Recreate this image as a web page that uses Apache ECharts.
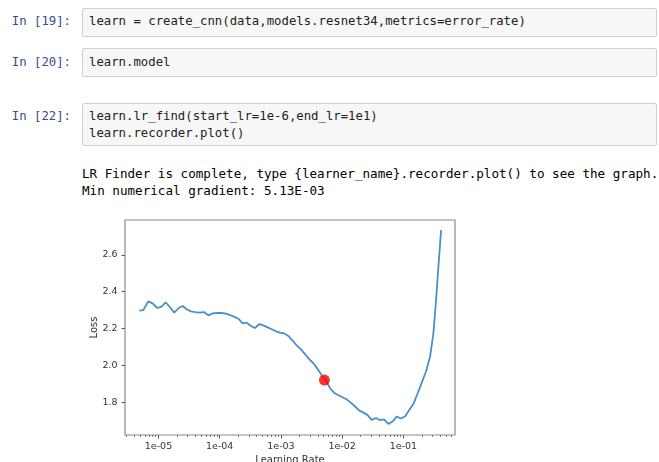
<!DOCTYPE html>
<html><head><meta charset="utf-8">
<script src="https://cdn.jsdelivr.net/npm/echarts@6/dist/echarts.min.js"></script>
<style>
body{margin:0;width:659px;height:462px;overflow:hidden;background:#fff;position:relative;font-family:"DejaVu Sans Mono",monospace;}
.prompt{position:absolute;left:0;width:71px;text-align:right;color:#3a4a96;font-size:12.3px;line-height:17px;white-space:pre;}
.box{position:absolute;left:82px;width:575px;background:#f7f7f7;border:1px solid #cfcfcf;border-radius:2px;box-sizing:border-box;}
.code{position:absolute;left:89px;font-size:12.3px;line-height:17px;color:#222;white-space:pre;}
.out{position:absolute;left:82px;font-size:12.6px;line-height:17px;color:#000;white-space:pre;}
#chart{position:absolute;left:60px;top:210px;width:420px;height:252px;}
</style>
</head><body>
<div class="box" style="top:8px;height:29px"></div>
<div class="prompt" style="top:12.5px">In [19]:</div>
<div class="code" style="top:12.5px">learn = create_cnn(data,models.resnet34,metrics=error_rate)</div>

<div class="box" style="top:48px;height:29px"></div>
<div class="prompt" style="top:53.5px">In [20]:</div>
<div class="code" style="top:53.5px">learn.model</div>

<div class="box" style="top:103px;height:43px"></div>
<div class="prompt" style="top:107.5px">In [22]:</div>
<div class="code" style="top:107.5px">learn.lr_find(start_lr=1e-6,end_lr=1e1)</div>
<div class="code" style="top:124.5px">learn.recorder.plot()</div>

<div class="out" style="top:164.5px">LR Finder is complete, type {learner_name}.recorder.plot() to see the graph.</div>
<div class="out" style="top:181.5px">Min numerical gradient: 5.13E-03</div>

<div id="chart"></div>
<script>
// log10 of learning rate
const lrExp = [-5.314,-5.248,-5.166,-5.096,-5.019,-4.949,-4.883,-4.812,-4.742,-4.671,-4.605,-4.540,-4.469,-4.399,-4.333,-4.257,-4.186,-4.115,-4.039,-3.968,-3.897,-3.832,-3.767,-3.696,-3.625,-3.560,-3.489,-3.424,-3.353,-3.287,-3.217,-3.151,-3.080,-3.015,-2.950,-2.879,-2.808,-2.743,-2.677,-2.607,-2.536,-2.470,-2.405,-2.334,-2.263,-2.198,-2.133,-2.062,-1.997,-1.926,-1.860,-1.790,-1.719,-1.653,-1.588,-1.517,-1.446,-1.381,-1.316,-1.245,-1.174,-1.109,-1.043,-0.973,-0.902,-0.836,-0.771,-0.700,-0.629,-0.564,-0.510,-0.466,-0.428,-0.384];
const loss = [2.298,2.301,2.348,2.337,2.312,2.319,2.343,2.316,2.287,2.312,2.323,2.305,2.294,2.290,2.287,2.290,2.272,2.283,2.285,2.285,2.281,2.274,2.265,2.254,2.229,2.233,2.215,2.204,2.225,2.218,2.207,2.197,2.186,2.179,2.175,2.161,2.135,2.110,2.089,2.063,2.034,2.013,1.984,1.948,1.919,1.878,1.854,1.840,1.829,1.818,1.800,1.779,1.757,1.746,1.734,1.707,1.717,1.705,1.710,1.685,1.699,1.725,1.714,1.725,1.761,1.793,1.847,1.908,1.970,2.049,2.175,2.355,2.535,2.734];
const suggestion = [Math.log10(5.13e-3), 1.922];
const xTicks = [-5,-4,-3,-2,-1];
const yTicks = [1.8,2.0,2.2,2.4,2.6];
const xMin = -5.547, xMax = -0.157, yMin = 1.625, yMax = 2.788;
const minorTicks = [];
for (let n = -6; n <= 0; n++) for (let k = 2; k <= 9; k++) {
  const v = n + Math.log10(k);
  if (v > xMin && v < xMax) minorTicks.push(v);
}
const chart = echarts.init(document.getElementById('chart'), null, {renderer:'canvas'});
const labelFont = {color:'#333', fontSize:9.5, fontFamily:'DejaVu Sans'};
chart.setOption({
  animation:false,
  grid:{left:65, top:10, width:330, height:215, containLabel:false, outerBoundsMode:'none',
        show:true, borderColor:'#8a8a8a', borderWidth:1.2, backgroundColor:'transparent'},
  xAxis:[{
    type:'value', min:xMin, max:xMax,
    axisLine:{show:false}, splitLine:{show:false},
    axisTick:{show:true, length:3.5, lineStyle:{color:'#555', width:1}, customValues:xTicks},
    axisLabel:Object.assign({customValues:xTicks, margin:7,
      formatter:v=>'1e-'+String(Math.round(-v)).padStart(2,'0')}, labelFont),
    name:'Learning Rate', nameLocation:'middle', nameGap:20, nameMoveOverlap:false,
    nameTextStyle:{color:'#333', fontSize:10, fontFamily:'DejaVu Sans'}
  },{
    type:'value', min:xMin, max:xMax, position:'bottom',
    axisLine:{show:false}, splitLine:{show:false},
    axisTick:{show:true, length:2, lineStyle:{color:'#777', width:1}, customValues:minorTicks},
    axisLabel:{show:false}
  }],
  yAxis:{
    type:'value', min:yMin, max:yMax,
    axisLine:{show:false}, splitLine:{show:false},
    axisTick:{show:true, length:3.5, lineStyle:{color:'#555', width:1}, customValues:yTicks},
    axisLabel:Object.assign({customValues:yTicks, margin:7.5, formatter:v=>v.toFixed(1)}, labelFont),
    name:'Loss', nameLocation:'middle', nameGap:26, nameRotate:90, nameMoveOverlap:false,
    nameTextStyle:{color:'#333', fontSize:10, fontFamily:'DejaVu Sans'}
  },
  series:[{
    type:'line', xAxisIndex:0, data:lrExp.map((x,i)=>[x, loss[i]]),
    showSymbol:false, lineStyle:{color:'#4a8fc9', width:1.8}, z:2
  },{
    type:'scatter', xAxisIndex:0, data:[suggestion], symbolSize:11,
    itemStyle:{color:'#ff0000'}, z:3
  }]
});
</script>
</body></html>
